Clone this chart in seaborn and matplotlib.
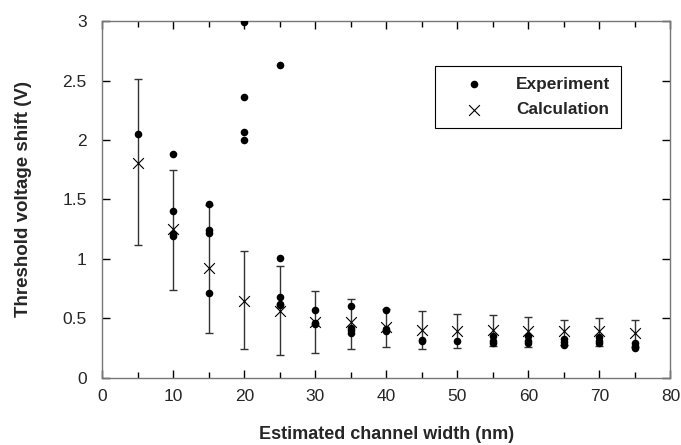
import numpy as np
import pandas as pd
import matplotlib
matplotlib.use("Agg")
import matplotlib.pyplot as plt
import seaborn as sns
from matplotlib.ticker import MultipleLocator

# Experiment points (channel width, shift)
exp_width = [5,
             10, 10, 10, 10,
             15, 15, 15, 15,
             20, 20, 20, 20,
             25, 25, 25, 25, 25,
             30, 30, 30,
             35, 35, 35, 35,
             40, 40, 40,
             45, 45,
             50,
             55, 55, 55,
             60, 60, 60,
             65, 65, 65,
             70, 70, 70,
             75, 75, 75]
exp_shift = [2.05,
             1.88, 1.40, 1.21, 1.19,
             1.46, 1.24, 1.22, 0.71,
             2.99, 2.36, 2.07, 2.00,
             2.63, 1.01, 0.68, 0.62, 0.61,
             0.57, 0.46, 0.45,
             0.60, 0.42, 0.40, 0.38,
             0.57, 0.41, 0.39,
             0.32, 0.31,
             0.31,
             0.35, 0.31, 0.29,
             0.35, 0.31, 0.29,
             0.33, 0.30, 0.28,
             0.34, 0.31, 0.29,
             0.29, 0.27, 0.25]

# Calculation with error range
calc_width = [5, 10, 15, 20, 25, 30, 35, 40, 45, 50, 55, 60, 65, 70, 75]
calc_shift = [1.81, 1.25, 0.92, 0.65, 0.56, 0.47, 0.47, 0.43, 0.40, 0.39, 0.40, 0.39, 0.39, 0.39, 0.38]
calc_upper = [2.51, 1.75, 1.45, 1.07, 0.94, 0.73, 0.66, 0.58, 0.56, 0.54, 0.53, 0.51, 0.49, 0.50, 0.49]
calc_lower = [1.12, 0.74, 0.38, 0.24, 0.19, 0.21, 0.24, 0.26, 0.24, 0.25, 0.27, 0.26, 0.28, 0.27, 0.26]

df_exp = pd.DataFrame({"width": exp_width, "shift": exp_shift})
df_calc = pd.DataFrame({"width": calc_width, "shift": calc_shift,
                        "upper": calc_upper, "lower": calc_lower})

sns.set_style("ticks")
plt.rcParams["font.family"] = ["Liberation Sans", "DejaVu Sans"]

fig = plt.figure(figsize=(6.81, 4.45), dpi=100)
ax = fig.add_axes([0.1505, 0.151, 0.834, 0.8017])

# error bars of the calculation
yerr = np.array([df_calc["shift"] - df_calc["lower"], df_calc["upper"] - df_calc["shift"]])
ax.errorbar(df_calc["width"], df_calc["shift"], yerr=yerr, fmt="none",
            ecolor="#333333", elinewidth=1.0, capsize=3.2, capthick=1.0, zorder=2)

sns.scatterplot(data=df_exp, x="width", y="shift", ax=ax, color="black",
                marker="o", s=30, edgecolor="black", linewidth=0,
                label="Experiment", zorder=3)
sns.scatterplot(data=df_calc, x="width", y="shift", ax=ax, color="black",
                marker="x", s=60, linewidth=0.8,
                label="Calculation", zorder=4)

ax.set_xlim(0, 80)
ax.set_ylim(0, 3)
ax.xaxis.set_major_locator(MultipleLocator(10))
ax.xaxis.set_minor_locator(MultipleLocator(5))
ax.set_yticks([0, 0.5, 1, 1.5, 2, 2.5, 3])
ax.set_yticklabels(["0", "0.5", "1", "1.5", "2", "2.5", "3"])

ax.tick_params(which="both", direction="in", top=True, right=True,
               labelsize=12.5, color="black")
ax.tick_params(axis="x", pad=8)
ax.tick_params(axis="y", pad=11.5)
ax.tick_params(which="major", length=6, width=1)
ax.tick_params(which="minor", length=4, width=1)
for s in ax.spines.values():
    s.set_color("#777777")
    s.set_linewidth(1)

ax.set_xlabel("Estimated channel width (nm)", fontsize=13, fontweight="bold", labelpad=16)
ax.set_ylabel("Threshold voltage shift (V)", fontsize=13.5, fontweight="bold", labelpad=22)

leg = ax.legend(loc="upper right", bbox_to_anchor=(0.9125, 0.874),
                frameon=True, fancybox=False, edgecolor="black",
                prop={"weight": "bold", "size": 12.4},
                handlelength=3.3, handletextpad=0.8, borderpad=0.62,
                labelspacing=0.61, borderaxespad=0, markerscale=1.0)
leg.get_frame().set_linewidth(0.8)
leg.get_frame().set_facecolor("white")
leg.get_frame().set_alpha(1)

fig.savefig("out.png", dpi=100)
